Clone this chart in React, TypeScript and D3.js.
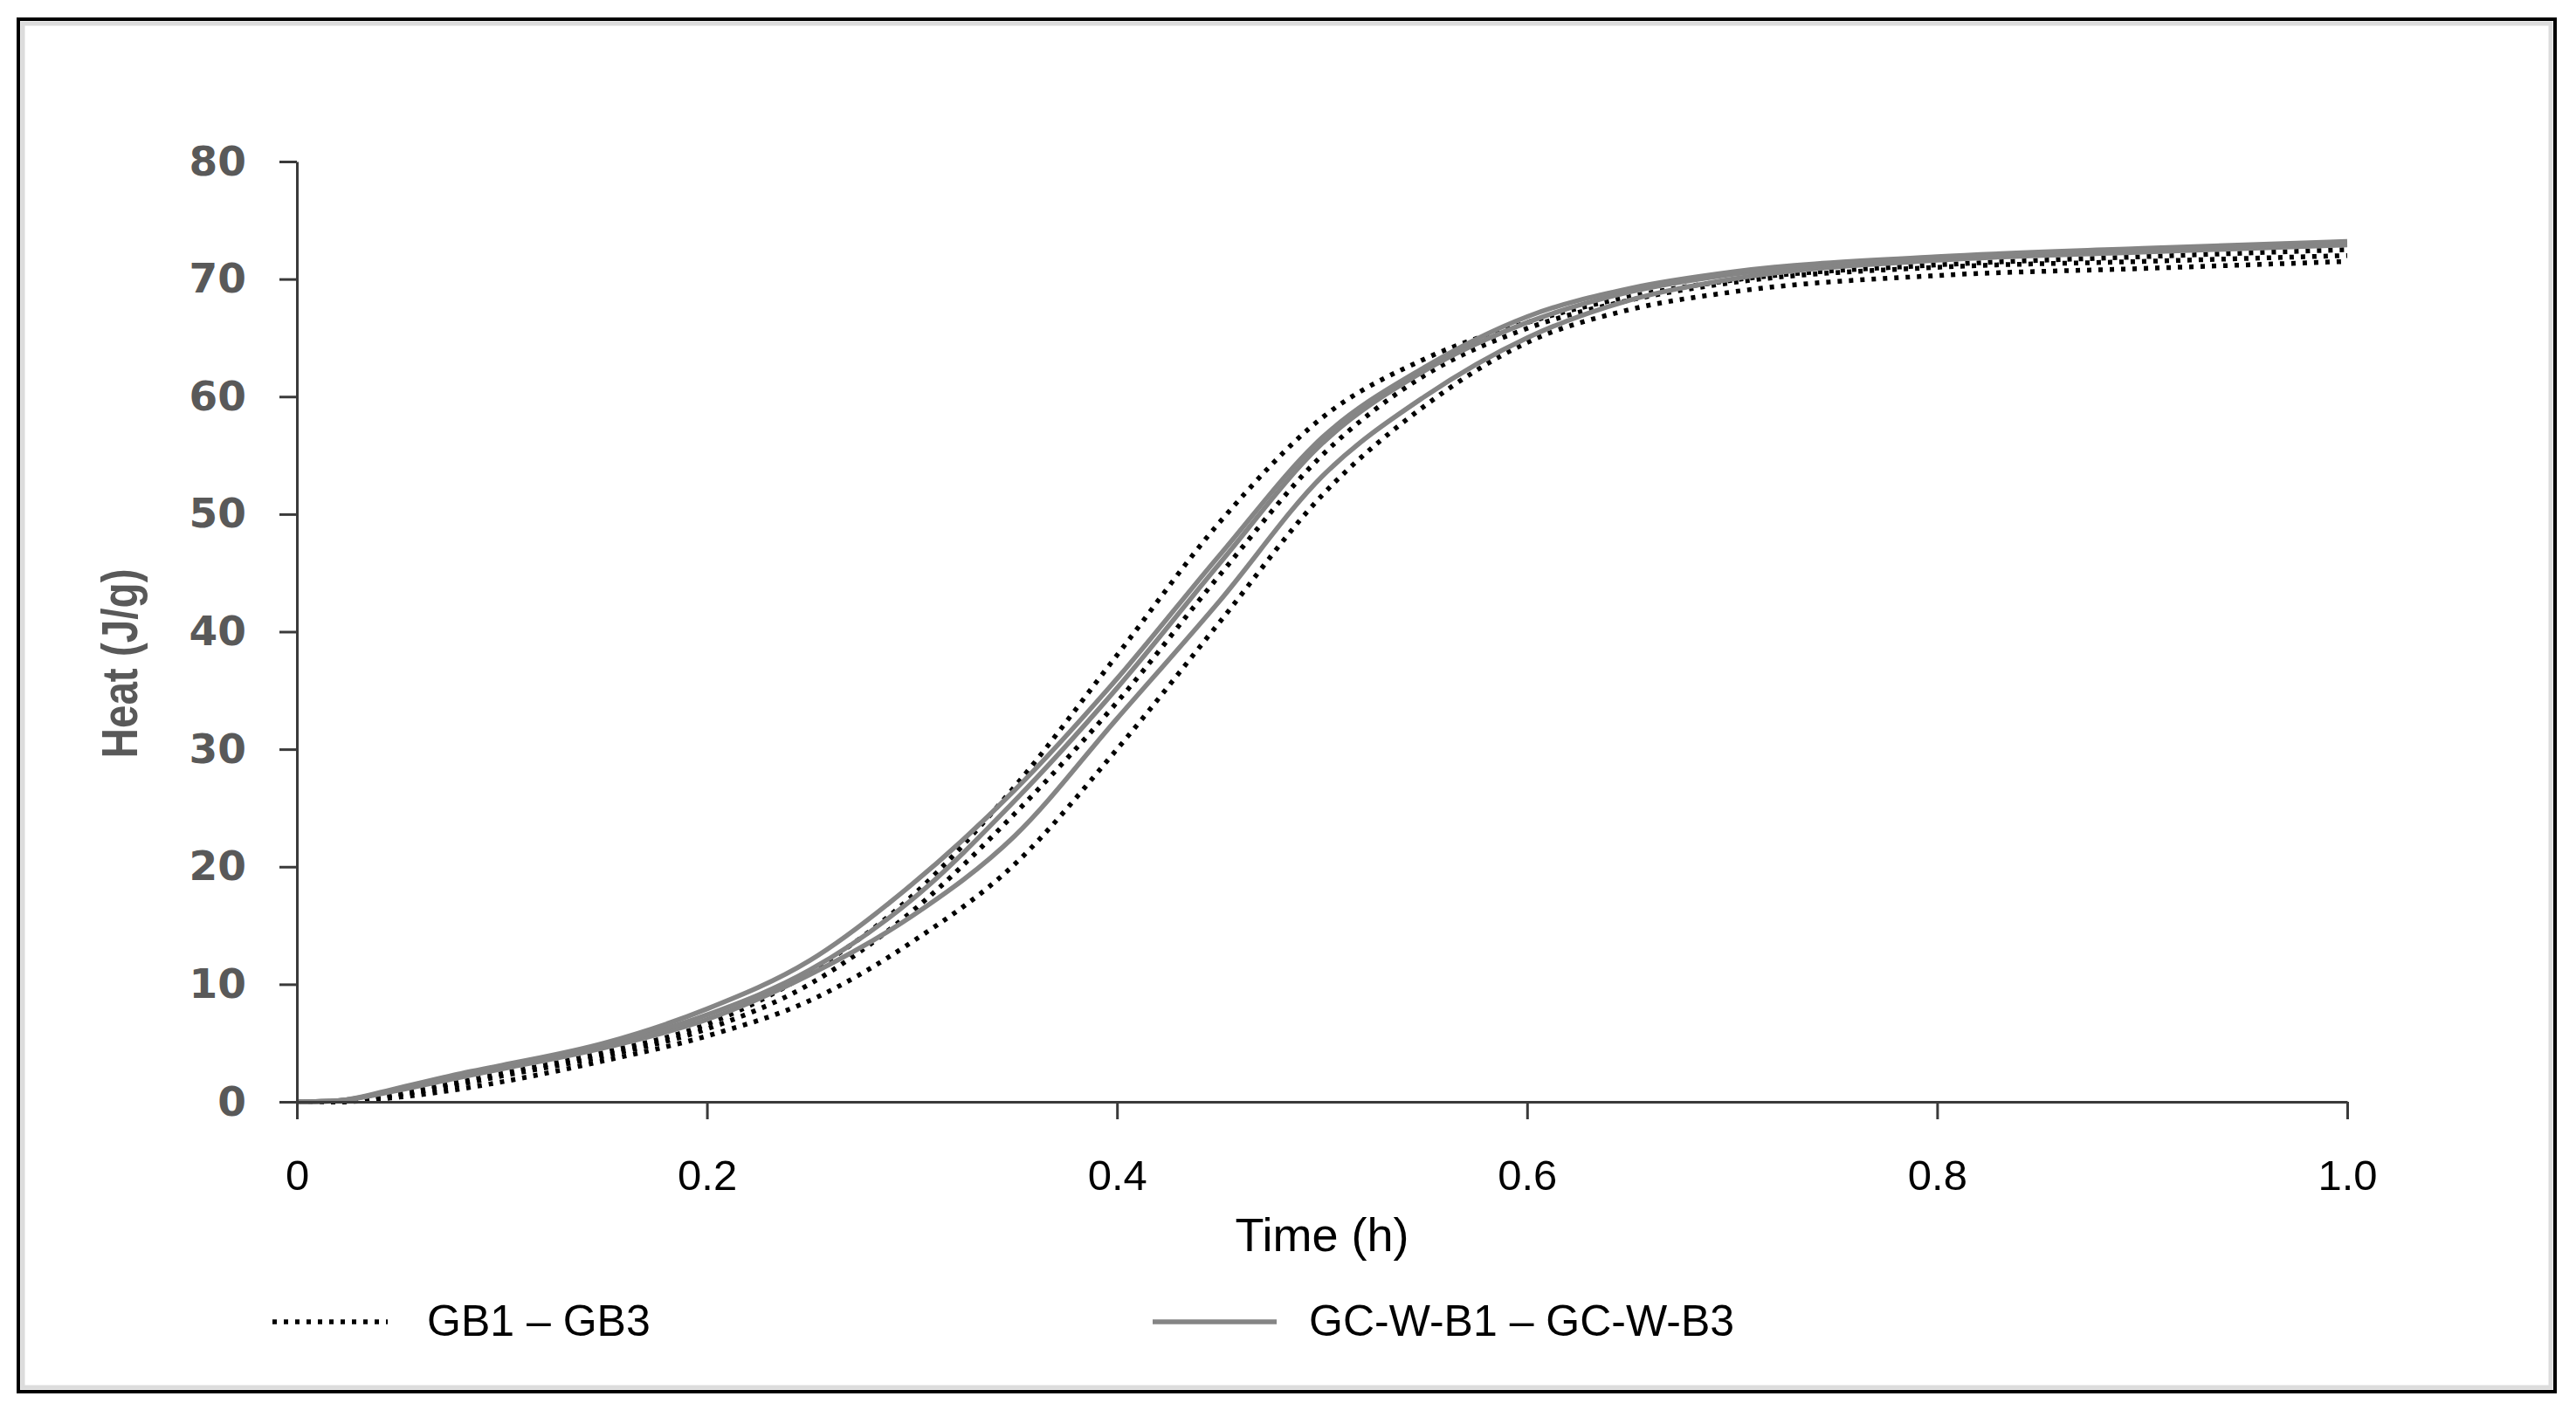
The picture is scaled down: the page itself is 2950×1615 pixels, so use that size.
import { useEffect, useRef } from 'react';
import * as d3 from 'd3';

const WIDTH = 2950;
const HEIGHT = 1615;
const MARGIN = { top: 185, right: 262, bottom: 353, left: 340 };

// time (h) shared by all runs
const timeH = [0, 0.02, 0.05, 0.08, 0.1, 0.15, 0.2, 0.25, 0.3, 0.35, 0.4, 0.45, 0.5, 0.55, 0.6, 0.65, 0.7, 0.8, 0.9, 1.0];

// heat (J/g), dotted runs
const gb1 = [0, 0, 0.7, 1.7, 2.4, 4.2, 6.6, 11.0, 17.5, 26.8, 38.0, 49.3, 58.2, 63.2, 66.3, 68.5, 69.9, 71.2, 71.9, 72.5];
const gb2 = [0, 0, 0.6, 1.5, 2.2, 3.9, 6.2, 10.0, 16.2, 24.5, 34.0, 44.8, 55.0, 61.8, 65.8, 68.2, 69.7, 71.0, 71.5, 72.0];
const gb3 = [0, 0, 0.4, 1.1, 1.7, 3.5, 5.6, 8.6, 13.6, 20.2, 30.0, 40.8, 51.6, 59.2, 64.6, 67.4, 68.9, 70.3, 70.9, 71.5];

// heat (J/g), solid runs
const gcwb1 = [0, 0.1, 1.2, 2.4, 3.1, 5.0, 7.9, 12.0, 18.5, 26.5, 36.0, 46.5, 56.5, 62.5, 66.8, 69.2, 70.6, 71.9, 72.6, 73.2];
const gcwb2 = [0, 0.1, 1.1, 2.3, 3.0, 4.8, 7.4, 11.2, 17.2, 25.6, 35.2, 45.8, 56.0, 62.2, 66.3, 68.9, 70.4, 71.8, 72.5, 73.0];
const gcwb3 = [0, 0.1, 1.0, 2.1, 2.8, 4.6, 7.0, 10.8, 15.8, 22.6, 32.6, 42.6, 53.2, 60.0, 65.0, 68.2, 70.0, 71.6, 72.3, 72.9];

const xTicks = [0, 0.2, 0.4, 0.6, 0.8, 1.0];
const xTickLabels = ['0', '0.2', '0.4', '0.6', '0.8', '1.0'];
const yTicks = [0, 10, 20, 30, 40, 50, 60, 70, 80];

const legendLabels = ['GB1 \u2013 GB3', 'GC-W-B1 \u2013 GC-W-B3'];

const DOTTED = { stroke: '#000', width: 5.5, dash: '5 8' };
const SOLID = { stroke: '#858585', width: 5.5, dash: null as string | null };

type Point = { t: number; q: number };

const toPoints = (values: number[]): Point[] => values.map((q, i) => ({ t: timeH[i], q }));

const series = [
  { data: toPoints(gb1), style: DOTTED },
  { data: toPoints(gb2), style: DOTTED },
  { data: toPoints(gb3), style: DOTTED },
  { data: toPoints(gcwb3), style: SOLID },
  { data: toPoints(gcwb2), style: SOLID },
  { data: toPoints(gcwb1), style: SOLID },
];

export default function App() {
  const axesRef = useRef<SVGGElement>(null);

  const boundsWidth = WIDTH - MARGIN.left - MARGIN.right;
  const boundsHeight = HEIGHT - MARGIN.top - MARGIN.bottom;

  const xScale = d3.scaleLinear().domain([0, 1]).range([0, boundsWidth]);
  const yScale = d3.scaleLinear().domain([0, 80]).range([boundsHeight, 0]);

  const lineBuilder = d3
    .line<Point>()
    .x((d) => xScale(d.t))
    .y((d) => yScale(d.q))
    .curve(d3.curveMonotoneX);

  // axes through d3
  useEffect(() => {
    const g = d3.select(axesRef.current);
    g.selectAll('*').remove();

    const xAxis = d3
      .axisBottom(xScale)
      .tickValues(xTicks)
      .tickSizeInner(20)
      .tickSizeOuter(0)
      .tickPadding(46)
      .tickFormat((_, i) => xTickLabels[i]);

    g.append('g')
      .attr('transform', `translate(0,${boundsHeight})`)
      .call(xAxis)
      .call((s) => s.select('.domain').attr('stroke', '#3a3a3a').attr('stroke-width', 3))
      .call((s) => s.selectAll('.tick line').attr('stroke', '#3a3a3a').attr('stroke-width', 3))
      .call((s) =>
        s
          .selectAll('.tick text')
          .attr('fill', '#000')
          .attr('font-size', 49)
          .attr('font-family', 'Liberation Sans, Arial, sans-serif')
      );

    const yAxis = d3
      .axisLeft(yScale)
      .tickValues(yTicks)
      .tickSizeInner(20)
      .tickSizeOuter(0)
      .tickPadding(38)
      .tickFormat((d) => String(d));

    g.append('g')
      .call(yAxis)
      .call((s) => s.select('.domain').attr('stroke', '#3a3a3a').attr('stroke-width', 3))
      .call((s) => s.selectAll('.tick line').attr('stroke', '#3a3a3a').attr('stroke-width', 3))
      .call((s) =>
        s
          .selectAll('.tick text')
          .attr('fill', '#595959')
          .attr('font-size', 47)
          .attr('font-weight', 'bold')
          .attr('font-family', 'DejaVu Sans, Verdana, sans-serif')
      );
  }, [boundsWidth, boundsHeight]);

  return (
    <svg
      width={WIDTH}
      height={HEIGHT}
      style={{ position: 'absolute', left: 0, top: 0, background: '#fff' }}
    >
      <rect x={0} y={0} width={WIDTH} height={HEIGHT} fill='#fff' />
      {/* frame */}
      <rect x={26} y={27} width={2895} height={1562} fill='none' stroke='#dcdcdc' strokeWidth={5} />
      <rect x={21} y={22} width={2905} height={1572} fill='none' stroke='#000' strokeWidth={4} />

      <g transform={`translate(${MARGIN.left},${MARGIN.top})`}>
        {series.map((s, i) => (
          <path
            key={i}
            d={lineBuilder(s.data) ?? ''}
            fill='none'
            stroke={s.style.stroke}
            strokeWidth={s.style.width}
            strokeDasharray={s.style.dash ?? undefined}
          />
        ))}
        <g ref={axesRef} />
      </g>

      {/* axis titles */}
      <text
        x={1514}
        y={1433}
        textAnchor='middle'
        fontSize={54}
        fontFamily='Liberation Sans, Arial, sans-serif'
        fill='#000'
      >
        Time (h)
      </text>
      <text
        transform='translate(157,760) rotate(-90)'
        textAnchor='middle'
        fontSize={58}
        fontWeight='bold'
        fontFamily='Liberation Sans Narrow, Liberation Sans, Arial, sans-serif'
        fill='#595959'
        textLength={217}
        lengthAdjust='spacingAndGlyphs'
      >
        Heat (J/g)
      </text>

      {/* legend */}
      <line x1={312} x2={444} y1={1514} y2={1514} stroke={DOTTED.stroke} strokeWidth={DOTTED.width} strokeDasharray={DOTTED.dash} />
      <text x={489} y={1530} fontSize={50} fontFamily='Liberation Sans, Arial, sans-serif' fill='#000'>
        {legendLabels[0]}
      </text>
      <line x1={1320} x2={1462} y1={1514} y2={1514} stroke={SOLID.stroke} strokeWidth={SOLID.width} />
      <text x={1499} y={1530} fontSize={50} fontFamily='Liberation Sans, Arial, sans-serif' fill='#000'>
        {legendLabels[1]}
      </text>
    </svg>
  );
}
